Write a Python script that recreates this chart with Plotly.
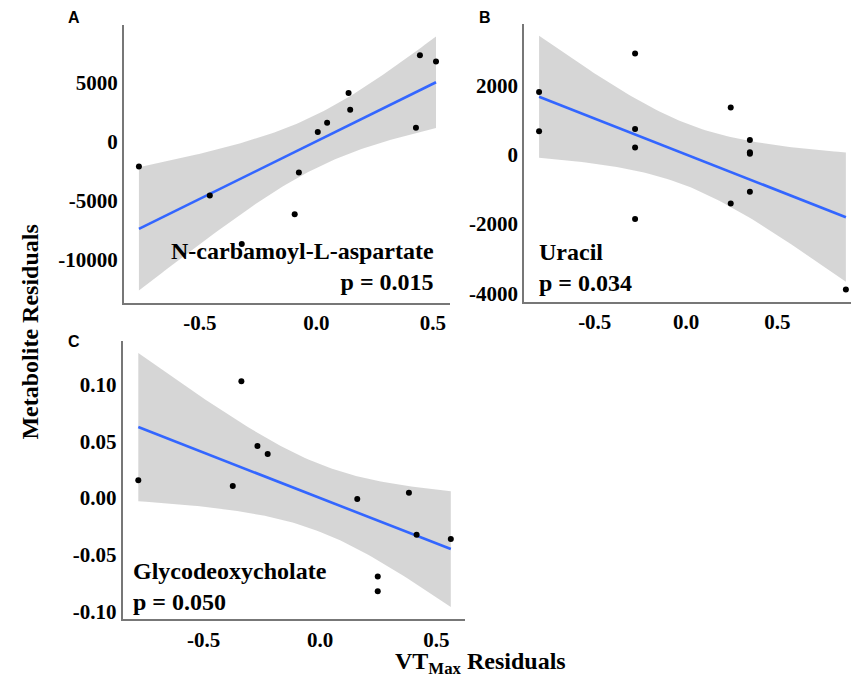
import numpy as np
import plotly.graph_objects as go

# ---------------- data ----------------
a_x = [-0.761, -0.457, -0.320, -0.093, -0.075, 0.006, 0.046, 0.138, 0.145, 0.427, 0.444, 0.513]
a_y = [-2100, -4540, -8650, -6130, -2600, 815, 1600, 4120, 2690, 1180, 7310, 6780]

b_x = [-0.805, -0.805, -0.279, -0.279, -0.279, -0.279, 0.245, 0.245, 0.350, 0.350, 0.350, 0.350, 0.876]
b_y = [1814, 679, 2923, 745, 209, -1854, 1367, -1404, 430, 77, 29, -1070, -3888]

c_x = [-0.781, -0.375, -0.338, -0.269, -0.225, 0.160, 0.248, 0.248, 0.382, 0.415, 0.562]
c_y = [0.0157, 0.0105, 0.1028, 0.0458, 0.0388, -0.0009, -0.069, -0.082, 0.0047, -0.0323, -0.0361]

metabolites = ["N-carbamoyl-L-aspartate", "Uracil", "Glycodeoxycholate"]
p_values = ["p = 0.015", "p = 0.034", "p = 0.050"]
panel_letters = ["A", "B", "C"]

x_tickvals = [-0.5, 0.0, 0.5]
x_ticktext = ["-0.5", "0.0", "0.5"]
a_tickvals = [-10000, -5000, 0, 5000]
a_ticktext = ["-10000", "-5000", "0", "5000"]
b_tickvals = [-4000, -2000, 0, 2000]
b_ticktext = ["-4000", "-2000", "0", "2000"]
c_tickvals = [-0.10, -0.05, 0.00, 0.05, 0.10]
c_ticktext = ["-0.10", "-0.05", "0.00", "0.05", "0.10"]

# t critical values (95%) for df = n - 2
T_CRIT = {9: 2.262, 10: 2.228, 11: 2.201}

W, H = 851, 688


def lm_band(x, y, npts=80):
    x = np.asarray(x, float)
    y = np.asarray(y, float)
    n = len(x)
    X = np.column_stack([np.ones(n), x])
    beta, *_ = np.linalg.lstsq(X, y, rcond=None)
    resid = y - X @ beta
    s2 = (resid ** 2).sum() / (n - 2)
    xm = x.mean()
    sxx = ((x - xm) ** 2).sum()
    xs = np.linspace(x.min(), x.max(), npts)
    fit = beta[0] + beta[1] * xs
    se = np.sqrt(s2 * (1.0 / n + (xs - xm) ** 2 / sxx))
    t = T_CRIT[n - 2]
    return xs, fit, fit - t * se, fit + t * se


def px_x(p):
    return p / W


def px_y(p):
    return 1 - p / H


fig = go.Figure()

panels = [
    (a_x, a_y, "x", "y"),
    (b_x, b_y, "x2", "y2"),
    (c_x, c_y, "x3", "y3"),
]

for xs_, ys_, xa, ya in panels:
    xs, fit, lo, hi = lm_band(xs_, ys_)
    fig.add_trace(go.Scatter(
        x=np.concatenate([xs, xs[::-1]]), y=np.concatenate([hi, lo[::-1]]),
        fill="toself", fillcolor="rgba(153,153,153,0.4)", line=dict(width=0),
        mode="lines", hoverinfo="skip", showlegend=False, xaxis=xa, yaxis=ya))
    fig.add_trace(go.Scatter(
        x=xs, y=fit, mode="lines", line=dict(color="#3366FF", width=2.6),
        showlegend=False, xaxis=xa, yaxis=ya))
    fig.add_trace(go.Scatter(
        x=xs_, y=ys_, mode="markers", marker=dict(color="black", size=6),
        showlegend=False, xaxis=xa, yaxis=ya))

tick_font = dict(family="Liberation Serif", size=21, color="black", weight="bold")
axis_common = dict(showline=True, linecolor="#777777", linewidth=2, showgrid=False,
                   zeroline=False, ticks="", tickfont=tick_font, mirror=False)

fig.update_layout(
    width=W, height=H, margin=dict(l=0, r=0, t=0, b=0),
    plot_bgcolor="white", paper_bgcolor="white", showlegend=False,
    xaxis=dict(domain=[px_x(124), px_x(450)], range=[-0.825, 0.573], anchor="y",
               tickvals=x_tickvals, ticktext=x_ticktext, **axis_common),
    yaxis=dict(domain=[px_y(305), px_y(25)], range=[-13620, 9880], anchor="x",
               tickvals=a_tickvals, ticktext=a_ticktext, **axis_common),
    xaxis2=dict(domain=[px_x(524.3), 1.0], range=[-0.886, 0.904], anchor="y2",
                tickvals=x_tickvals, ticktext=x_ticktext, **axis_common),
    yaxis2=dict(domain=[px_y(304), px_y(24)], range=[-4245, 3782], anchor="x2",
                tickvals=b_tickvals, ticktext=b_ticktext, **axis_common),
    xaxis3=dict(domain=[px_x(122.7), px_x(465)], range=[-0.848, 0.623], anchor="y3",
                tickvals=x_tickvals, ticktext=x_ticktext, **axis_common),
    yaxis3=dict(domain=[px_y(624), px_y(343.3)], range=[-0.1068, 0.1383], anchor="x3",
                tickvals=c_tickvals, ticktext=c_ticktext, **axis_common),
)

ann_font = dict(family="Liberation Serif", size=24, color="black", weight="bold")
letter_font = dict(family="Liberation Sans", size=16, color="black", weight="bold")

annotations = [
    dict(x=px_x(436), y=px_y(268.5), xref="paper", yref="paper",
         text=metabolites[0] + "<br>" + p_values[0], align="right",
         xanchor="right", yanchor="middle", showarrow=False, font=ann_font),
    dict(x=px_x(537), y=px_y(269), xref="paper", yref="paper",
         text=metabolites[1] + "<br>" + p_values[1], align="left",
         xanchor="left", yanchor="middle", showarrow=False, font=ann_font),
    dict(x=px_x(131), y=px_y(591), xref="paper", yref="paper",
         text=metabolites[2] + "<br>" + p_values[2], align="left",
         xanchor="left", yanchor="middle", showarrow=False, font=ann_font),
    dict(x=px_x(74), y=px_y(18), xref="paper", yref="paper", text=panel_letters[0],
         xanchor="center", yanchor="middle", showarrow=False, font=letter_font),
    dict(x=px_x(485), y=px_y(18), xref="paper", yref="paper", text=panel_letters[1],
         xanchor="center", yanchor="middle", showarrow=False, font=letter_font),
    dict(x=px_x(74), y=px_y(343.5), xref="paper", yref="paper", text=panel_letters[2],
         xanchor="center", yanchor="middle", showarrow=False, font=letter_font),
    dict(x=px_x(30), y=px_y(335), xref="paper", yref="paper", text="Metabolite Residuals",
         textangle=-90, xanchor="center", yanchor="middle", showarrow=False,
         font=dict(family="Liberation Serif", size=24, color="black", weight="bold")),
    dict(x=px_x(480), y=px_y(668), xref="paper", yref="paper",
         text="VT<sub>Max</sub> Residuals", xanchor="center", yanchor="middle",
         showarrow=False,
         font=dict(family="Liberation Serif", size=24, color="black", weight="bold")),
]
fig.update_layout(annotations=annotations)

fig.write_html("out.html")
